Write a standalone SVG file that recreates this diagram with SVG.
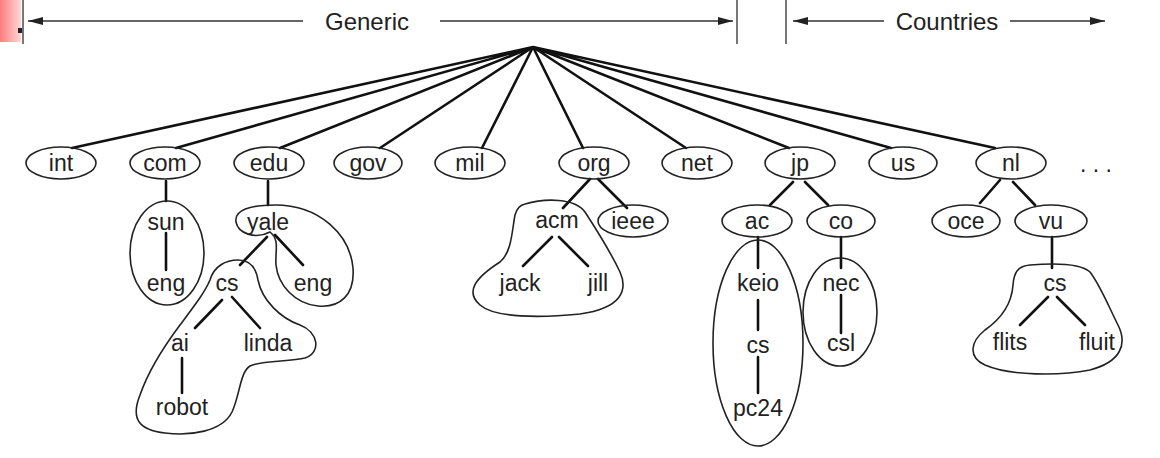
<svg xmlns="http://www.w3.org/2000/svg" width="1160" height="458" viewBox="0 0 1160 458">
<style>
text{font-family:"Liberation Sans",Arial,sans-serif;font-size:23px;fill:#222;text-anchor:middle}
.hd{font-size:24px}
.e{fill:none;stroke:#222;stroke-width:1.6}
.b{fill:none;stroke:#222;stroke-width:1.6}
.c{stroke:#111;stroke-width:2.6;fill:none;stroke-linecap:round}
.a{stroke:#333;stroke-width:1.6;fill:none}
.v{stroke:#555;stroke-width:1.6}
</style>
<defs>
<marker id="ah" viewBox="0 0 15 8" refX="15" refY="4" markerWidth="15" markerHeight="8" markerUnits="userSpaceOnUse" orient="auto">
<path d="M0,0 L15,4 L0,8 Z" fill="#222"/>
</marker>
<linearGradient id="rg" x1="0" y1="0" x2="1" y2="0">
<stop offset="0" stop-color="#ff7d7d"/>
<stop offset="1" stop-color="#ffd6d6"/>
</linearGradient>
</defs>
<rect width="1160" height="458" fill="#fff"/>
<g id="header">
<rect x="0" y="0" width="21" height="42" fill="url(#rg)"/>
<rect x="18" y="28" width="4" height="5" fill="#222"/>
<line class="v" x1="23" y1="0" x2="23" y2="44"/>
<line class="v" x1="737" y1="0" x2="737" y2="44"/>
<line class="v" x1="786" y1="0" x2="786" y2="44"/>
<line class="a" x1="303" y1="21" x2="28" y2="21" marker-end="url(#ah)"/>
<line class="a" x1="440" y1="21" x2="733" y2="21" marker-end="url(#ah)"/>
<line class="a" x1="884" y1="21" x2="793" y2="21" marker-end="url(#ah)"/>
<line class="a" x1="1010" y1="21" x2="1105" y2="21" marker-end="url(#ah)"/>
<text class="hd" x="367" y="30">Generic</text>
<text class="hd" x="947" y="30">Countries</text>
</g>
<g id="connectors">
<path class="c" d="M533,47 L72,148 M533,47 L176,148 M533,47 L280,148 M533,47 L380,148 M533,47 L482,148 M533,47 L583,148 M533,47 L686,148 M533,47 L789,148 M533,47 L891,148 M533,47 L995,148"/>
<path class="c" d="M166,181 L166,201 M166,233 L166,270"/>
<path class="c" d="M268,181 L268,205 M267,237 L240,265 M275,235 L303,265 M222,300 L195,328 M232,297 L260,328 M182,358 L182,393"/>
<path class="c" d="M590,179 L563,208 M598,179 L627,208 M552,237 L523,266 M559,237 L588,266"/>
<path class="c" d="M793,182 L770,205 M805,182 L828,205 M758,237 L758,268 M758,300 L758,330 M758,357 L758,393 M841,237 L841,268 M841,295 L841,333"/>
<path class="c" d="M1000,180 L980,203 M1013,182 L1035,205 M1052,237 L1052,268 M1048,297 L1020,325 M1057,297 L1085,325"/>
</g>
<g id="n-int"><ellipse class="e" cx="61" cy="163" rx="35" ry="16"/><text x="61" y="171">int</text></g>
<g id="n-com"><ellipse class="e" cx="165" cy="163" rx="35" ry="16"/><text x="165" y="171">com</text></g>
<g id="n-edu"><ellipse class="e" cx="269" cy="163" rx="35" ry="16"/><text x="269" y="171">edu</text></g>
<g id="n-gov"><ellipse class="e" cx="368" cy="163" rx="34" ry="16"/><text x="368" y="171">gov</text></g>
<g id="n-mil"><ellipse class="e" cx="470" cy="163" rx="35" ry="16"/><text x="470" y="171">mil</text></g>
<g id="n-org"><ellipse class="e" cx="594" cy="163" rx="35" ry="16"/><text x="594" y="171">org</text></g>
<g id="n-net"><ellipse class="e" cx="697" cy="163" rx="35" ry="16"/><text x="697" y="171">net</text></g>
<g id="n-jp"><ellipse class="e" cx="800" cy="163" rx="35" ry="16"/><text x="800" y="171">jp</text></g>
<g id="n-us"><ellipse class="e" cx="903" cy="163" rx="34" ry="16"/><text x="903" y="171">us</text></g>
<g id="n-nl"><ellipse class="e" cx="1011" cy="163" rx="35" ry="16"/><text x="1011" y="171">nl</text></g>
<g id="n-more"><text x="1096" y="172">. . .</text></g>
<g id="g-sun">
<ellipse class="b" cx="167" cy="253" rx="37" ry="52"/>
<text x="166" y="230">sun</text><text x="166" y="291">eng</text>
</g>
<g id="g-yale">
<path class="b" d="M270,232 C255,240 238,233 236,222 C234,210 250,205 275,205 C320,205 350,235 353,268 C355,295 340,308 318,306 C295,304 278,285 276,265 C275,250 280,240 270,232 Z"/>
<text x="268" y="230">yale</text><text x="313" y="291">eng</text>
</g>
<g id="g-cs">
<path class="b" d="M238,260 C250,260 256,268 258,280 C262,300 280,318 300,325 C318,332 322,352 305,358 C290,362 262,360 250,366 C240,372 240,395 232,412 C222,432 190,436 165,433 C140,430 130,420 140,395 C148,372 165,345 180,325 C195,305 205,292 210,280 C214,266 226,260 238,260 Z"/>
<text x="227" y="291">cs</text><text x="180" y="351">ai</text><text x="268" y="351">linda</text><text x="182" y="415">robot</text>
</g>
<g id="g-acm">
<path class="b" d="M525,204 C545,198 575,198 585,212 C598,232 612,255 620,272 C628,290 622,308 580,314 C540,318 495,318 480,305 C465,292 475,278 500,262 C512,252 512,230 515,215 C517,208 520,205 525,204 Z"/>
<text x="557" y="228">acm</text><text x="520" y="291">jack</text><text x="598" y="291">jill</text>
</g>
<g id="n-ieee"><ellipse class="e" cx="633" cy="221" rx="35" ry="16"/><text x="633" y="229">ieee</text></g>
<g id="n-ac"><ellipse class="e" cx="757" cy="221" rx="35" ry="16"/><text x="757" y="229">ac</text></g>
<g id="n-co"><ellipse class="e" cx="841" cy="221" rx="34" ry="16"/><text x="841" y="229">co</text></g>
<g id="g-keio">
<ellipse class="b" cx="758" cy="343" rx="45" ry="103"/>
<text x="758" y="291">keio</text><text x="758" y="353">cs</text><text x="758" y="416">pc24</text>
</g>
<g id="g-nec">
<ellipse class="b" cx="840" cy="312" rx="37" ry="54"/>
<text x="841" y="291">nec</text><text x="841" y="351">csl</text>
</g>
<g id="n-oce"><ellipse class="e" cx="966" cy="221" rx="34" ry="16"/><text x="966" y="229">oce</text></g>
<g id="n-vu"><ellipse class="e" cx="1051" cy="221" rx="36" ry="16"/><text x="1051" y="229">vu</text></g>
<g id="g-cs2">
<path class="b" d="M1030,265 C1055,263 1080,263 1090,272 C1100,285 1108,305 1118,325 C1128,345 1120,362 1090,370 C1060,376 1010,376 985,365 C968,357 970,342 985,330 C1005,316 1012,300 1013,285 C1014,272 1018,266 1030,265 Z"/>
<text x="1055" y="291">cs</text><text x="1010" y="350">flits</text><text x="1097" y="350">fluit</text>
</g>
</svg>
